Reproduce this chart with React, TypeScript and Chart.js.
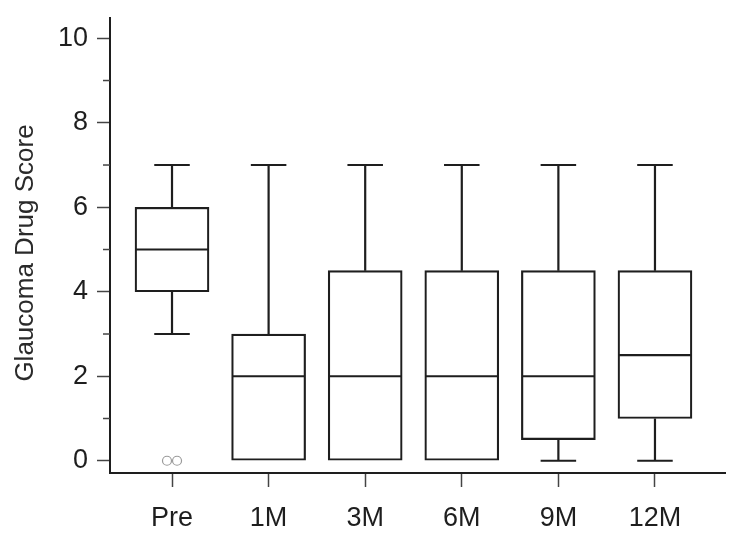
import React, { useEffect, useRef } from "react";
import { Chart, registerables } from "chart.js";

Chart.register(...registerables);

// ---- data ----
const categories = ["Pre", "1M", "3M", "6M", "9M", "12M"];
const whiskerMin = [3, 0, 0, 0, 0, 0];
const q1 = [4, 0, 0, 0, 0.5, 1];
const median = [5, 2, 2, 2, 2, 2.5];
const q3 = [6, 3, 4.5, 4.5, 4.5, 4.5];
const whiskerMax = [7, 7, 7, 7, 7, 7];
// outliers: [category index, value, jitter]
const outlierCategory = [0, 0];
const outlierValue = [0, 0];
const outlierJitter = [-0.052, 0.052];
const yTickValues = [0, 1, 2, 3, 4, 5, 6, 7, 8, 9, 10];
const yTitle = "Glaucoma Drug Score";

const INK = "#1e1e1e";
const FONT = "'Liberation Sans', Arial, sans-serif";

const boxPlugin = {
  id: "boxExtras",
  afterDatasetsDraw(chart: any) {
    const { ctx, scales } = chart;
    const xs = scales.x;
    const ys = scales.y;
    const meta = chart.getDatasetMeta(0);
    ctx.save();
    ctx.strokeStyle = INK;
    ctx.lineWidth = 2.2;
    categories.forEach((_, i) => {
      const bar = meta.data[i];
      const cx = xs.getPixelForValue(i);
      const half = bar ? bar.width / 2 : 36;
      const capHalf = half * 0.48;
      // median
      const my = ys.getPixelForValue(median[i]);
      ctx.beginPath();
      ctx.moveTo(cx - half + 1, my);
      ctx.lineTo(cx + half - 1, my);
      ctx.stroke();
      // upper whisker
      if (whiskerMax[i] > q3[i]) {
        const yTop = ys.getPixelForValue(whiskerMax[i]);
        const yQ3 = ys.getPixelForValue(q3[i]);
        ctx.beginPath();
        ctx.moveTo(cx, yQ3);
        ctx.lineTo(cx, yTop);
        ctx.moveTo(cx - capHalf, yTop);
        ctx.lineTo(cx + capHalf, yTop);
        ctx.stroke();
      }
      // lower whisker
      if (whiskerMin[i] < q1[i]) {
        const yBot = ys.getPixelForValue(whiskerMin[i]);
        const yQ1 = ys.getPixelForValue(q1[i]);
        ctx.beginPath();
        ctx.moveTo(cx, yQ1);
        ctx.lineTo(cx, yBot);
        ctx.moveTo(cx - capHalf, yBot);
        ctx.lineTo(cx + capHalf, yBot);
        ctx.stroke();
      }
    });
    // minor y ticks
    ctx.strokeStyle = "#444";
    ctx.lineWidth = 1.5;
    yTickValues.forEach((v) => {
      if (v % 2 === 1) {
        const py = ys.getPixelForValue(v);
        ctx.beginPath();
        ctx.moveTo(chart.chartArea.left - 7, py);
        ctx.lineTo(chart.chartArea.left, py);
        ctx.stroke();
      }
    });
    // y title
    ctx.fillStyle = "#2a2a2a";
    ctx.font = `26px ${FONT}`;
    ctx.textAlign = "center";
    ctx.textBaseline = "middle";
    ctx.translate(26, 253);
    ctx.rotate(-Math.PI / 2);
    ctx.fillText(yTitle, 0, 0);
    ctx.restore();
  },
};

export default function App() {
  const ref = useRef<HTMLCanvasElement | null>(null);
  useEffect(() => {
    if (!ref.current) return;
    const chart = new Chart(ref.current, {
      type: "bar",
      data: {
        datasets: [
          {
            type: "bar",
            data: categories.map((_, i) => ({ x: i, y: [q1[i], q3[i]] })) as any,
            backgroundColor: "#ffffff",
            borderColor: INK,
            borderWidth: 2.2,
            borderSkipped: false,
            barThickness: 74,
            order: 2,
          } as any,
          {
            type: "scatter",
            data: outlierCategory.map((c, i) => ({ x: c + outlierJitter[i], y: outlierValue[i] })),
            pointStyle: "circle",
            pointRadius: 4.5,
            pointBorderWidth: 1.2,
            pointBorderColor: "#9a9a9a",
            pointBackgroundColor: "#ffffff",
            order: 1,
          } as any,
        ],
      },
      options: {
        animation: false,
        responsive: false,
        maintainAspectRatio: false,
        layout: { padding: { left: 0, right: 20, top: 18, bottom: 0 } },
        plugins: { legend: { display: false }, tooltip: { enabled: false } },
        scales: {
          x: {
            type: "linear",
            offset: false,
            min: -0.642,
            max: 5.725,
            afterBuildTicks: (s: any) => {
              s.ticks = categories.map((_, i) => ({ value: i }));
            },
            afterFit: (s: any) => {
              s.height = 74;
              s.paddingLeft = 0;
              s.paddingRight = 0;
            },
            ticks: {
              autoSkip: false,
              maxRotation: 0,
              callback: (v: any) => categories[v] ?? "",
              font: { family: FONT, size: 27 },
              color: INK,
              padding: 15,
            },
            grid: {
              offset: false,
              drawOnChartArea: false,
              tickLength: 14,
              tickColor: "#444",
              tickWidth: 1.5,
            },
            border: { color: INK, width: 2 },
          },
          y: {
            type: "linear",
            min: -0.29,
            max: 10.48,
            afterBuildTicks: (s: any) => {
              s.ticks = yTickValues.map((v) => ({ value: v }));
            },
            afterFit: (s: any) => {
              s.width = 110;
              s.paddingTop = 0;
              s.paddingBottom = 0;
            },
            ticks: {
              autoSkip: false,
              callback: (v: any) => (v % 2 === 0 ? String(v) : ""),
              font: { family: FONT, size: 27 },
              color: INK,
              padding: 9,
            },
            grid: {
              drawOnChartArea: false,
              tickLength: 13,
              tickColor: (c: any) => (c.tick && c.tick.value % 2 === 0 ? "#444" : "rgba(0,0,0,0)"),
              tickWidth: 1.5,
            },
            border: { color: INK, width: 2 },
          },
        },
      },
      plugins: [boxPlugin],
    });
    return () => chart.destroy();
  }, []);
  return (
    <div style={{ position: "absolute", left: 0, top: 0, width: 745, height: 547, background: "#fff" }}>
      <canvas ref={ref} width={745} height={547} style={{ display: "block" }} />
    </div>
  );
}
